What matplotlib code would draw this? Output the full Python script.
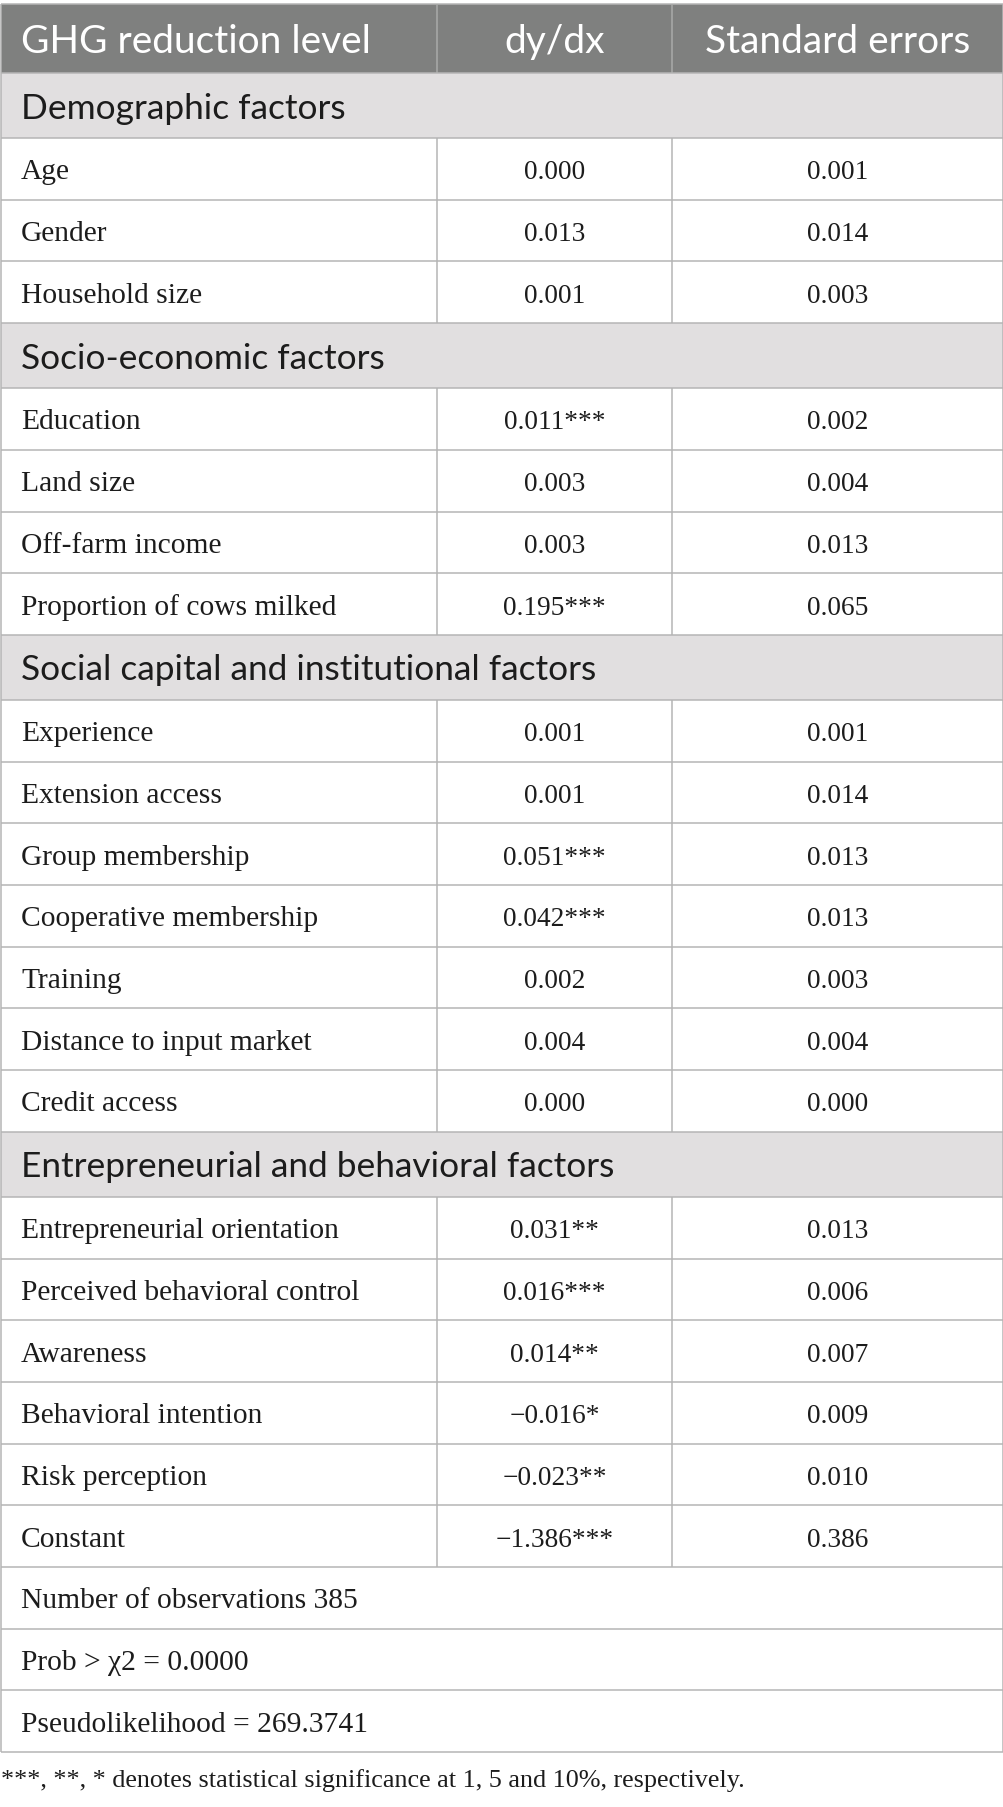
import matplotlib
matplotlib.use("Agg")
import matplotlib.pyplot as plt
from matplotlib.patches import Rectangle

# ---------------- data ----------------
header = ["GHG reduction level", "dy/dx", "Standard errors"]

groups = [
    "Demographic factors",
    "Socio-economic factors",
    "Social capital and institutional factors",
    "Entrepreneurial and behavioral factors",
]

demo_vars = ["Age", "Gender", "Household size"]
demo_dydx = ["0.000", "0.013", "0.001"]
demo_se = ["0.001", "0.014", "0.003"]

socio_vars = ["Education", "Land size", "Off-farm income", "Proportion of cows milked"]
socio_dydx = ["0.011***", "0.003", "0.003", "0.195***"]
socio_se = ["0.002", "0.004", "0.013", "0.065"]

social_vars = ["Experience", "Extension access", "Group membership",
               "Cooperative membership", "Training", "Distance to input market",
               "Credit access"]
social_dydx = ["0.001", "0.001", "0.051***", "0.042***", "0.002", "0.004", "0.000"]
social_se = ["0.001", "0.014", "0.013", "0.013", "0.003", "0.004", "0.000"]

entre_vars = ["Entrepreneurial orientation", "Perceived behavioral control",
              "Awareness", "Behavioral intention", "Risk perception", "Constant"]
entre_dydx = ["0.031**", "0.016***", "0.014**", "\u22120.016*", "\u22120.023**",
              "\u22121.386***"]
entre_se = ["0.013", "0.006", "0.007", "0.009", "0.010", "0.386"]

stats_rows = ["Number of observations 385", "Prob > \u03c72 = 0.0000",
              "Pseudolikelihood = 269.3741"]

footnote = "***, **, * denotes statistical significance at 1, 5 and 10%, respectively."

sections = [
    (groups[0], demo_vars, demo_dydx, demo_se),
    (groups[1], socio_vars, socio_dydx, socio_se),
    (groups[2], social_vars, social_dydx, social_se),
    (groups[3], entre_vars, entre_dydx, entre_se),
]

# ---------------- layout / style ----------------
W, H = 1004, 1807
fig = plt.figure(figsize=(W / 100, H / 100), dpi=100)
ax = fig.add_axes([0, 0, 1, 1])
ax.set_xlim(0, W)
ax.set_ylim(H, 0)
ax.axis("off")

HEAD_BG = "#7f807f"
GROUP_BG = "#e1dfe0"
LINE = "#b5b5b5"
TXT = "#1c1c1c"
SANS = ["Lato", "DejaVu Sans"]
SERIF = ["Liberation Serif", "DejaVu Serif"]

x_left, x_c1, x_c2, x_right = 0.5, 437, 672, 1003.5
TOP = 4
HEAD_H = 69
GROUP_H = 65
ROW_H = 61.7
PADX = 21

fig.canvas.draw()
renderer = fig.canvas.get_renderer()


def fit_size(text, family, target_px, weight="normal"):
    t = ax.text(0, 0, text, fontsize=20, family=family, weight=weight)
    w = t.get_window_extent(renderer).width
    t.remove()
    return 20 * target_px / w


FS_HEAD = fit_size("GHG reduction level", SANS, 351)
FS_GROUP = fit_size("Demographic factors", SANS, 325)
FS_BODY = fit_size("Entrepreneurial orientation", SERIF, 319)
FS_NUM = fit_size("0.013", SERIF, 61.5)
FS_FOOT = fit_size(footnote, SERIF, 745)

lw = 1.1


def hline(y, x0=x_left, x1=x_right):
    ax.plot([x0, x1], [y, y], color=LINE, lw=lw, solid_capstyle="butt", zorder=3)


def vline(x, y0, y1, color=LINE):
    ax.plot([x, x], [y0, y1], color=color, lw=lw, solid_capstyle="butt", zorder=3)


# header
y = TOP
ax.add_patch(Rectangle((x_left, y), x_right - x_left, HEAD_H, facecolor=HEAD_BG,
                       edgecolor="none", zorder=1))
hline(y)
vline(x_c1, y, y + HEAD_H, color="#a9aaa9")
vline(x_c2, y, y + HEAD_H, color="#a9aaa9")
base = y + HEAD_H / 2 + 14.5
ax.text(PADX, base, header[0], color="white", fontsize=FS_HEAD, family=SANS,
        va="baseline", ha="left", zorder=4)
ax.text((x_c1 + x_c2) / 2, base, header[1], color="white", fontsize=FS_HEAD,
        family=SANS, va="baseline", ha="center", zorder=4)
ax.text((x_c2 + x_right) / 2, base, header[2], color="white", fontsize=FS_HEAD,
        family=SANS, va="baseline", ha="center", zorder=4)
y += HEAD_H
table_top = TOP

for gname, vars_, dydx, se in sections:
    ax.add_patch(Rectangle((x_left, y), x_right - x_left, GROUP_H,
                           facecolor=GROUP_BG, edgecolor="none", zorder=1))
    hline(y)
    ax.text(PADX, y + GROUP_H / 2 + 13, gname, color=TXT, fontsize=FS_GROUP,
            family=SANS, va="baseline", ha="left", zorder=4)
    y += GROUP_H
    for v, d, s in zip(vars_, dydx, se):
        hline(y)
        vline(x_c1, y, y + ROW_H)
        vline(x_c2, y, y + ROW_H)
        b = y + ROW_H / 2 + 10.5
        ax.text(PADX, b, v, color=TXT, fontsize=FS_BODY, family=SERIF,
                va="baseline", ha="left", zorder=4)
        ax.text((x_c1 + x_c2) / 2, b, d, color=TXT, fontsize=FS_NUM,
                family=SERIF, va="baseline", ha="center", zorder=4)
        ax.text((x_c2 + x_right) / 2, b, s, color=TXT, fontsize=FS_NUM,
                family=SERIF, va="baseline", ha="center", zorder=4)
        y += ROW_H

for srow in stats_rows:
    hline(y)
    b = y + ROW_H / 2 + 10.5
    ax.text(PADX, b, srow, color=TXT, fontsize=FS_BODY, family=SERIF,
            va="baseline", ha="left", zorder=4)
    y += ROW_H
hline(y)
table_bottom = y

vline(x_left, table_top, table_bottom)
vline(x_right, table_top, table_bottom)

ax.text(1, 1787, footnote, color=TXT, fontsize=FS_FOOT, family=SERIF,
        va="baseline", ha="left", zorder=4)

fig.savefig("out.png", dpi=100, facecolor="white")
